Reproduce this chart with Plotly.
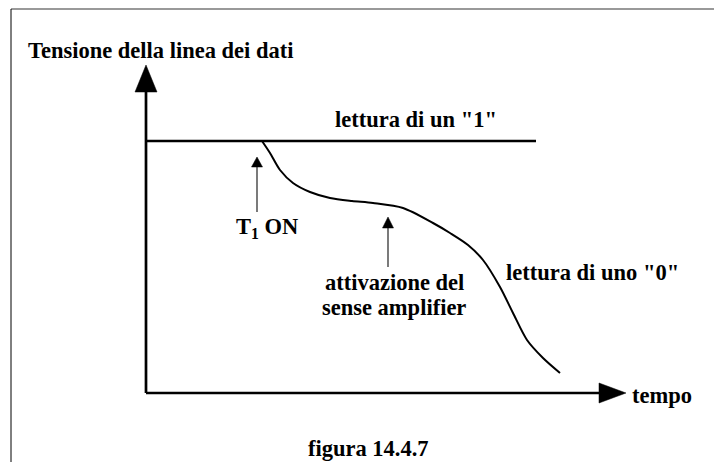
import plotly.graph_objects as go

# Bit-line voltage during a DRAM read (time and voltage in drawing units)
time_zero = [116, 124, 134, 147, 164, 184, 206, 227, 257, 287, 304, 322, 337, 354, 367, 381, 397, 414]
volt_zero = [252, 240, 223, 210, 201, 195, 192, 190, 185, 170, 160, 148, 133, 106, 80, 53, 35, 20]

time_one = [0, 390]
volt_one = [252, 252]

t1_on_time = 111          # instant when T1 turns on
sense_amp_time = 242      # instant when the sense amplifier is activated

y_axis_len = 328
x_axis_len = 480

FONT = dict(family="Liberation Serif", size=22.5, color="black")
INK = "black"

fig = go.Figure()

# "1" level and "0" discharge curve
fig.add_trace(go.Scatter(x=time_one, y=volt_one, mode="lines",
                         line=dict(color=INK, width=2.5), hoverinfo="skip"))
fig.add_trace(go.Scatter(x=time_zero, y=volt_zero, mode="lines",
                         line=dict(color=INK, width=2, shape="spline", smoothing=0.8),
                         hoverinfo="skip"))

shapes = []


def tri(points):
    p = "M " + " L ".join(f"{x},{y}" for x, y in points) + " Z"
    return dict(type="path", path=p, xref="x", yref="y",
                fillcolor=INK, line=dict(color=INK, width=0.5))


def seg(x0, y0, x1, y1, w, color=INK):
    return dict(type="line", x0=x0, y0=y0, x1=x1, y1=y1, xref="x", yref="y",
                line=dict(color=color, width=w))


# axes with filled arrowheads
shapes.append(seg(0, 0, 0, y_axis_len - 25, 2.7))
shapes.append(tri([(-11, y_axis_len - 27), (11, y_axis_len - 27), (0, y_axis_len)]))
shapes.append(seg(0, 0, x_axis_len - 25, 0, 2.7))
shapes.append(tri([(x_axis_len - 27, 10), (x_axis_len - 27, -10), (x_axis_len, 0)]))

# event markers
shapes.append(seg(t1_on_time, 181, t1_on_time, 228, 1.2, "#222"))
shapes.append(tri([(t1_on_time - 5.5, 226), (t1_on_time + 5.5, 226), (t1_on_time, 236)]))
shapes.append(seg(sense_amp_time, 126, sense_amp_time, 167, 1.2, "#222"))
shapes.append(tri([(sense_amp_time - 5.5, 165), (sense_amp_time + 5.5, 165), (sense_amp_time, 176)]))

# frame edges
shapes.append(seg(-135, 384, 568, 384, 1.5, "#777"))
shapes.append(seg(-135, 384, -135, -69, 1, INK))

annotations = [
    dict(x=-120, y=343, text="<b>Tensione della linea dei dati</b>", xanchor="left", yanchor="middle"),
    dict(x=270, y=274, text='<b>lettura di un "1"</b>', xanchor="center", yanchor="middle"),
    dict(x=88, y=165, text="<b>T<sub>1</sub> ON</b>", xanchor="left", yanchor="middle"),
    dict(x=248, y=111, text="<b>attivazione del</b>", xanchor="center", yanchor="middle"),
    dict(x=248, y=86, text="<b>sense amplifier</b>", xanchor="center", yanchor="middle"),
    dict(x=446, y=121, text='<b>lettura di uno "0"</b>', xanchor="center", yanchor="middle"),
    dict(x=484, y=-2, text="<b>tempo</b>", xanchor="left", yanchor="middle"),
    dict(x=222, y=-55, text="<b>figura 14.4.7</b>", xanchor="center", yanchor="middle"),
]
for a in annotations:
    a.update(xref="x", yref="y", showarrow=False, font=FONT)

fig.update_layout(
    width=714, height=462,
    margin=dict(l=0, r=0, t=0, b=0),
    paper_bgcolor="white", plot_bgcolor="white",
    showlegend=False,
    xaxis=dict(range=[-146, 568], visible=False, fixedrange=True),
    yaxis=dict(range=[-69, 393], visible=False, fixedrange=True),
    shapes=shapes,
    annotations=annotations,
)

fig.write_html("out.html", config={"displayModeBar": False})
